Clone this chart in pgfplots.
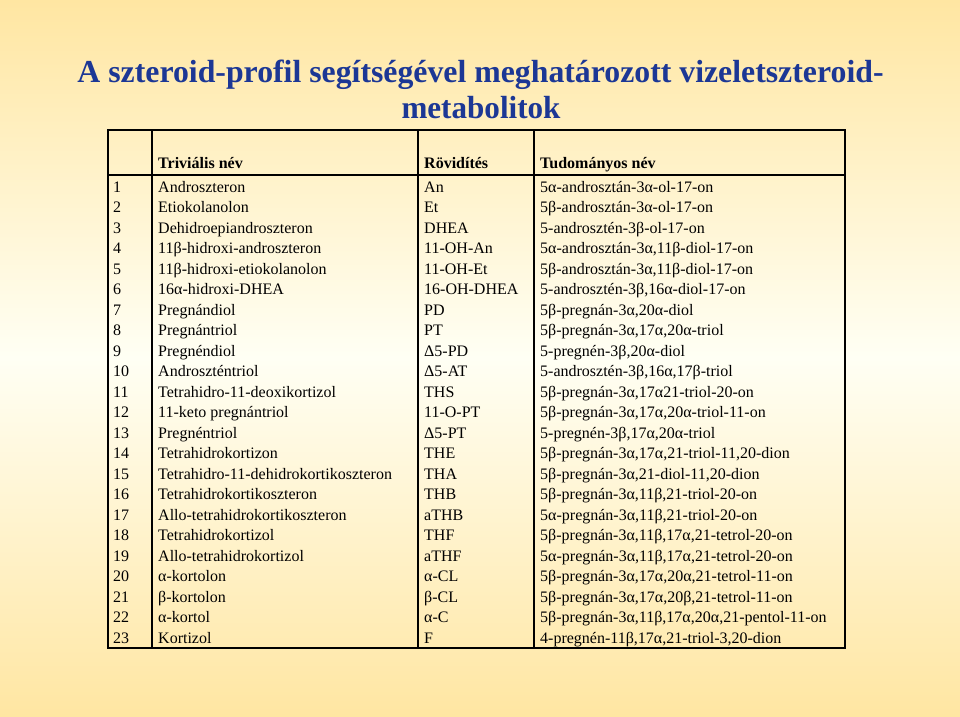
\documentclass[border=0pt]{standalone}
\usepackage{pgfplots}
\usepackage{pgfplotstable}
\pgfplotsset{compat=1.18}
\usepackage{graphicx}
\usepackage{fontspec}
\setmainfont{Liberation Serif}
\definecolor{titleblue}{HTML}{1C3795}
\definecolor{bgedge}{HTML}{FFE6A2}
\definecolor{bgmid}{HTML}{FFFFF4}

\pgfplotstableread[col sep=semicolon, row sep=\\]{
row;num;triv;abbr;sci\\
1;1;Androszteron;An;5α-androsztán-3α-ol-17-on\\
2;2;Etiokolanolon;Et;5β-androsztán-3α-ol-17-on\\
3;3;Dehidroepiandroszteron;DHEA;5-androsztén-3β-ol-17-on\\
4;4;11β-hidroxi-androszteron;11-OH-An;5α-androsztán-3α,11β-diol-17-on\\
5;5;11β-hidroxi-etiokolanolon;11-OH-Et;5β-androsztán-3α,11β-diol-17-on\\
6;6;16α-hidroxi-DHEA;16-OH-DHEA;5-androsztén-3β,16α-diol-17-on\\
7;7;Pregnándiol;PD;5β-pregnán-3α,20α-diol\\
8;8;Pregnántriol;PT;5β-pregnán-3α,17α,20α-triol\\
9;9;Pregnéndiol;Δ5-PD;5-pregnén-3β,20α-diol\\
10;10;Androszténtriol;Δ5-AT;5-androsztén-3β,16α,17β-triol\\
11;11;Tetrahidro-11-deoxikortizol;THS;5β-pregnán-3α,17α21-triol-20-on\\
12;12;11-keto pregnántriol;11-O-PT;5β-pregnán-3α,17α,20α-triol-11-on\\
13;13;Pregnéntriol;Δ5-PT;5-pregnén-3β,17α,20α-triol\\
14;14;Tetrahidrokortizon;THE;5β-pregnán-3α,17α,21-triol-11,20-dion\\
15;15;Tetrahidro-11-dehidrokortikoszteron;THA;5β-pregnán-3α,21-diol-11,20-dion\\
16;16;Tetrahidrokortikoszteron;THB;5β-pregnán-3α,11β,21-triol-20-on\\
17;17;Allo-tetrahidrokortikoszteron;aTHB;5α-pregnán-3α,11β,21-triol-20-on\\
18;18;Tetrahidrokortizol;THF;5β-pregnán-3α,11β,17α,21-tetrol-20-on\\
19;19;Allo-tetrahidrokortizol;aTHF;5α-pregnán-3α,11β,17α,21-tetrol-20-on\\
20;20;α-kortolon;α-CL;5β-pregnán-3α,17α,20α,21-tetrol-11-on\\
21;21;β-kortolon;β-CL;5β-pregnán-3α,17α,20β,21-tetrol-11-on\\
22;22;α-kortol;α-C;5β-pregnán-3α,11β,17α,20α,21-pentol-11-on\\
23;23;Kortizol;F;4-pregnén-11β,17α,21-triol-3,20-dion\\
}\datatable

\begin{document}
\begin{tikzpicture}
\shade[top color=bgedge, bottom color=bgmid] (0,0) rectangle (960pt,-358pt);
\shade[top color=bgmid, bottom color=bgedge] (0,-358pt) rectangle (960pt,-716pt);
\begin{axis}[
  at={(0,-716pt)}, anchor=south west,
  width=960pt, height=716pt, scale only axis,
  xmin=0, xmax=960, ymin=0, ymax=716, y dir=reverse,
  hide axis, clip=false,
  every node near coord/.append style={anchor=base west, inner sep=0pt, text=black,
    font=\fontsize{16}{19}\selectfont},
]
% title
\node[anchor=base, text=titleblue, inner sep=0pt] at (axis cs:480.5,82)
  {\resizebox{806pt}{\height}{\fontsize{32}{36}\selectfont\bfseries A szteroid-profil segítségével meghatározott vizeletszteroid-}};
\node[anchor=base, text=titleblue, inner sep=0pt] at (axis cs:481,118)
  {\resizebox{159pt}{\height}{\fontsize{32}{36}\selectfont\bfseries metabolitok}};

% header
\node[anchor=base west, inner sep=0pt, font=\fontsize{16}{19}\selectfont\bfseries] at (axis cs:158,168) {Triviális név};
\node[anchor=base west, inner sep=0pt, font=\fontsize{16}{19}\selectfont\bfseries] at (axis cs:424,168) {Rövidítés};
\node[anchor=base west, inner sep=0pt, font=\fontsize{16}{19}\selectfont\bfseries] at (axis cs:540,168) {Tudományos név};

% table rows
\addplot[black, only marks, mark=*, mark size=0pt, mark options={draw=none, fill=none},
  point meta=explicit symbolic, nodes near coords]
  table[x expr=113, y expr={192+(\thisrow{row}-1)*20.5}, meta=num] {\datatable};
\addplot[black, only marks, mark=*, mark size=0pt, mark options={draw=none, fill=none},
  point meta=explicit symbolic, nodes near coords]
  table[x expr=158, y expr={192+(\thisrow{row}-1)*20.5}, meta=triv] {\datatable};
\addplot[black, only marks, mark=*, mark size=0pt, mark options={draw=none, fill=none},
  point meta=explicit symbolic, nodes near coords]
  table[x expr=424, y expr={192+(\thisrow{row}-1)*20.5}, meta=abbr] {\datatable};
\addplot[black, only marks, mark=*, mark size=0pt, mark options={draw=none, fill=none},
  point meta=explicit symbolic, nodes near coords]
  table[x expr=540, y expr={192+(\thisrow{row}-1)*20.5}, meta=sci] {\datatable};

% grid
\draw[line width=1.3pt] (axis cs:152,129.5) -- (axis cs:152,647.5);
\draw[line width=1.3pt] (axis cs:418,129.5) -- (axis cs:418,647.5);
\draw[line width=1.3pt] (axis cs:534,129.5) -- (axis cs:534,647.5);
\draw[line width=1.3pt] (axis cs:108,175) -- (axis cs:845,175);
\draw[line width=2pt] (axis cs:108,129.5) rectangle (axis cs:845,647.5);
\end{axis}
\end{tikzpicture}
\end{document}
